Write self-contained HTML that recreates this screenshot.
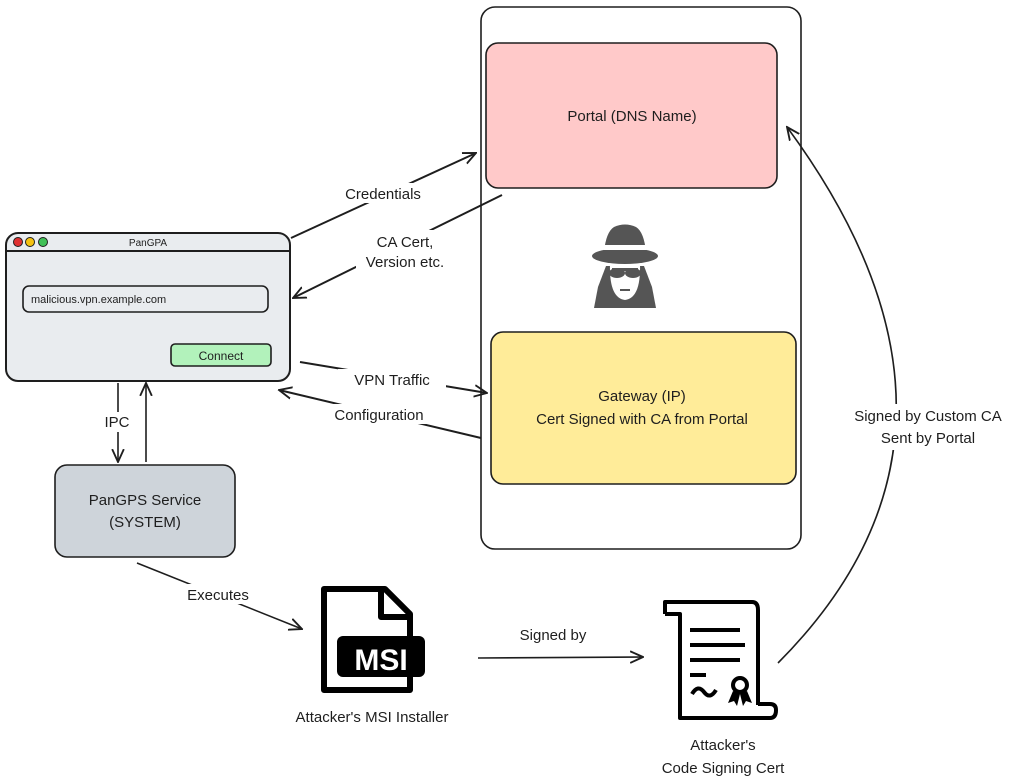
<!DOCTYPE html>
<html><head><meta charset="utf-8"><style>
html,body{margin:0;padding:0;background:#fff;}
svg{display:block;}
text{font-family:"Liberation Sans",sans-serif;fill:#1e1e1e;}
</style></head><body>
<svg width="1024" height="784" viewBox="0 0 1024 784" xmlns="http://www.w3.org/2000/svg">
<defs>
<marker id="ah" viewBox="0 0 12 12" refX="11" refY="6" markerWidth="14" markerHeight="14" markerUnits="userSpaceOnUse" orient="auto">
<path d="M0,1 L11,6 L0,11" fill="none" stroke="#1e1e1e" stroke-width="1.6"/>
</marker>
</defs>
<g stroke="#1e1e1e" stroke-width="1.6" fill="none">
<rect x="481" y="7" width="320" height="542" rx="14"/>
<rect x="486" y="43" width="291" height="145" rx="12" fill="#ffc9c9"/>
<rect x="491" y="332" width="305" height="152" rx="12" fill="#ffec99"/>
<rect x="6" y="233" width="284" height="148" rx="12" fill="#e9ecef" stroke-width="2"/>
<line x1="6" y1="251" x2="290" y2="251" stroke-width="2"/>
<rect x="23" y="286" width="245" height="26" rx="6" fill="#e9ecef"/>
<rect x="171" y="344" width="100" height="22" rx="4" fill="#b2f2bb"/>
<rect x="55" y="465" width="180" height="92" rx="12" fill="#ced4da"/>
<g stroke-width="2">
<line x1="291" y1="238" x2="476" y2="153" marker-end="url(#ah)"/>
<line x1="502" y1="195" x2="293" y2="298" marker-end="url(#ah)"/>
<line x1="300" y1="362" x2="487" y2="393" marker-end="url(#ah)"/>
<line x1="481" y1="438" x2="279" y2="390" marker-end="url(#ah)"/>
</g>
<line x1="118" y1="383" x2="118" y2="462" marker-end="url(#ah)"/>
<line x1="146" y1="462" x2="146" y2="383" marker-end="url(#ah)"/>
<line x1="137" y1="563" x2="302" y2="629" marker-end="url(#ah)"/>
<line x1="478" y1="658" x2="643" y2="657" marker-end="url(#ah)"/>
<path d="M778,663 Q1010,430 787,127" marker-end="url(#ah)"/>
</g>
<g fill="#fff">
<rect x="330" y="183" width="106" height="20"/>
<rect x="356" y="230" width="96" height="42"/>
<rect x="338" y="369" width="108" height="20"/>
<rect x="318" y="404" width="124" height="20"/>
<rect x="98" y="412" width="40" height="20"/>
<rect x="175" y="584" width="86" height="20"/>
<rect x="836" y="404" width="184" height="46"/>
</g>
<circle cx="18" cy="242" r="4.5" fill="#e03131" stroke="#1e1e1e"/>
<circle cx="30" cy="242" r="4.5" fill="#f5c211" stroke="#1e1e1e"/>
<circle cx="43" cy="242" r="4.5" fill="#40c057" stroke="#1e1e1e"/>
<text x="148" y="246" font-size="10" text-anchor="middle">PanGPA</text>
<text x="31" y="303" font-size="11">malicious.vpn.example.com</text>
<text x="221" y="360" font-size="12" text-anchor="middle">Connect</text>
<g font-size="15" text-anchor="middle">
<text x="632" y="121">Portal (DNS Name)</text>
<text x="642" y="401">Gateway (IP)</text>
<text x="642" y="424">Cert Signed with CA from Portal</text>
<text x="145" y="505">PanGPS Service</text>
<text x="145" y="527">(SYSTEM)</text>
<text x="383" y="199">Credentials</text>
<text x="405" y="247">CA Cert,</text>
<text x="405" y="267">Version etc.</text>
<text x="392" y="385">VPN Traffic</text>
<text x="379" y="420">Configuration</text>
<text x="117" y="427">IPC</text>
<text x="218" y="600">Executes</text>
<text x="553" y="640">Signed by</text>
<text x="372" y="722">Attacker's MSI Installer</text>
<text x="723" y="750">Attacker's</text>
<text x="723" y="773">Code Signing Cert</text>
<text x="928" y="421">Signed by Custom CA</text>
<text x="928" y="443">Sent by Portal</text>
</g>
<!-- spy -->
<g fill="#555">
<path d="M604,252 Q606,232 614,227 Q625,222 636,227 Q644,232 646,252 Z"/>
<ellipse cx="625" cy="256" rx="33" ry="8"/>
<path d="M598,287 L606,266 L644,266 L652,287 L656,308 L594,308 Z"/>
</g>
<rect x="604" y="245" width="42" height="5" fill="#fff"/>
<path d="M610,264 L640,264 Q641,298 625,300 Q609,298 610,264 Z" fill="#fff"/>
<ellipse cx="617" cy="273" rx="8" ry="5" fill="#555"/>
<ellipse cx="633" cy="273" rx="8" ry="5" fill="#555"/>
<rect x="612" y="268" width="26" height="3" fill="#555"/>
<rect x="620" y="289" width="10" height="2" fill="#555"/>
<!-- MSI icon -->
<path d="M324,589 L385,589 L410,614 L410,690 L324,690 Z" fill="none" stroke="#000" stroke-width="6" stroke-linejoin="round"/>
<path d="M381,589 L381,617 L410,617" fill="none" stroke="#000" stroke-width="6" stroke-linejoin="round"/>
<rect x="337" y="636" width="88" height="41" rx="6" fill="#000"/>
<text x="381" y="670" font-size="30" font-weight="bold" text-anchor="middle" style="fill:#fff">MSI</text>
<!-- cert icon -->
<g fill="none" stroke="#000" stroke-width="4" stroke-linejoin="round">
<path d="M665,614 L665,602 L752,602 Q758,602 758,610 L758,705"/>
<path d="M665,614 L680,614 L680,718 L770,718 Q776,718 776,710 Q776,704 770,704 L758,704"/>
<line x1="690" y1="630" x2="740" y2="630"/><line x1="690" y1="645" x2="745" y2="645"/>
<line x1="690" y1="660" x2="740" y2="660"/><line x1="690" y1="675" x2="706" y2="675"/>
<path d="M692,694 Q698,684 704,692 Q710,700 716,690"/>
<circle cx="740" cy="685" r="7"/>
</g>
<path d="M733,691 L728,703 L734,701 L737,706 L740,694 Z M747,691 L752,703 L746,701 L743,706 L740,694 Z" fill="#000"/>
</svg>
</body></html>
